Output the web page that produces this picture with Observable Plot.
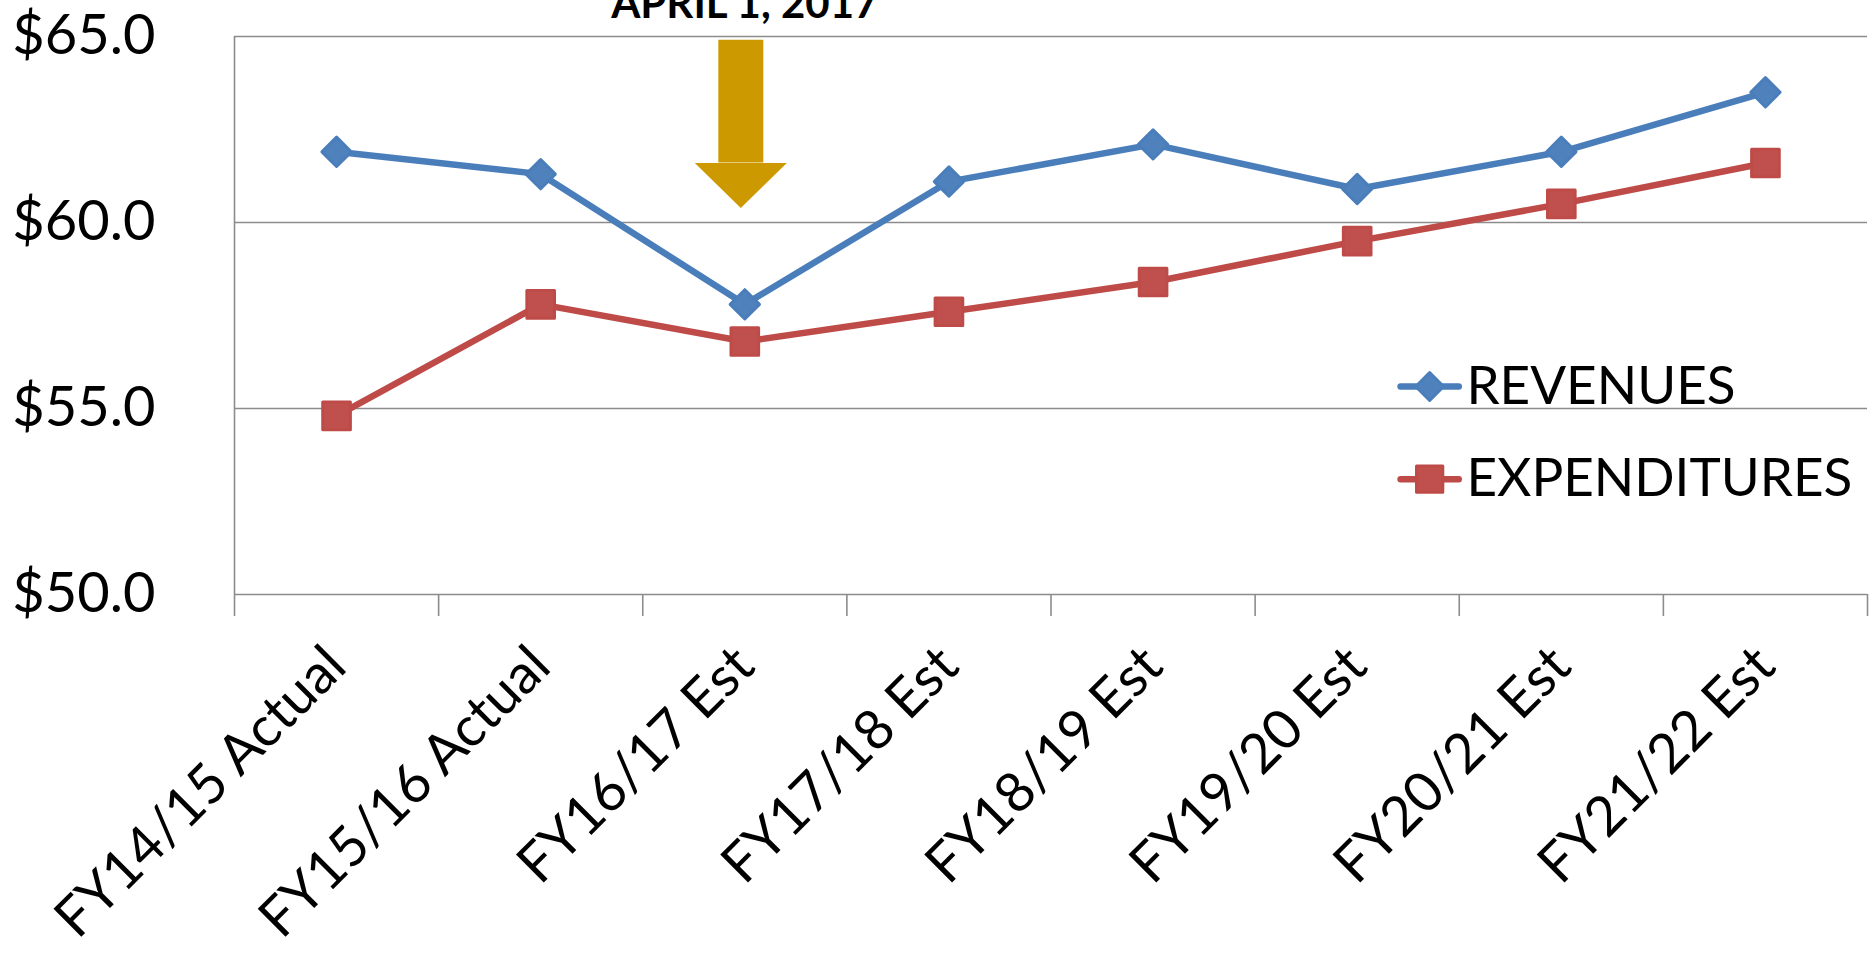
<!DOCTYPE html>
<html>
<head>
<meta charset="utf-8">
<script src="https://cdn.jsdelivr.net/npm/d3@7"></script>
<script src="https://cdn.jsdelivr.net/npm/@observablehq/plot@0.6"></script>
<style>
  html, body { margin: 0; padding: 0; background: #ffffff; }
  #chart svg { display: block; }
</style>
</head>
<body>
<div id="chart"></div>
<script>
// ---- data ----
const categories = ["FY14/15 Actual", "FY15/16 Actual", "FY16/17 Est", "FY17/18 Est", "FY18/19 Est", "FY19/20 Est", "FY20/21 Est", "FY21/22 Est"];
const revenues = [61.9, 61.3, 57.8, 61.1, 62.1, 60.9, 61.9, 63.5];
const expenditures = [54.8, 57.8, 56.8, 57.6, 58.4, 59.5, 60.5, 61.6];
const seriesNames = ["REVENUES", "EXPENDITURES"];
const yTicks = [50, 55, 60, 65];
const annotationLabel = "APRIL 1, 2017";
const annotationCategory = "FY16/17 Est";
const annotationTop = 64.9;
const annotationHeadBase = 61.6;

// ---- styling ----
const FONT = "Lato, 'Open Sans', sans-serif";
const GRID = "#8c8c8c";
const GOLD = "#CC9900";
const styles = {
  REVENUES: {line: "#4A7EBB", fill: "#4F81BD", symbol: "diamond2", r: 13.2},
  EXPENDITURES: {line: "#BE4B48", fill: "#C0504D", symbol: "square", r: 15.6}
};

const pos = c => categories.indexOf(c) + 0.5;
const series = {REVENUES: revenues, EXPENDITURES: expenditures};
const rows = seriesNames.flatMap(s => categories.map((c, i) => ({series: s, x: pos(c), value: series[s][i]})));

// legend layout (in chart coordinates)
const legend = seriesNames.map((s, i) => ({series: s, y: [55.59, 53.1][i]}));
const legX1 = 5.715, legX2 = 6.0, legXm = 5.855, legXt = 6.035;

const arrowHead = {
  draw(ctx) {
    ctx.moveTo(-46, 0);
    ctx.lineTo(46, 0);
    ctx.lineTo(0, 45);
    ctx.closePath();
  }
};

const boundaries = d3.range(0, categories.length + 1);
const centers = categories.map(pos);

const marks = [
  Plot.gridY(yTicks, {stroke: GRID, strokeOpacity: 1, strokeWidth: 1.6}),
  Plot.axisY(yTicks, {
    tickSize: 0, tickPadding: 79, fontSize: 56, fill: "#000", label: null,
    tickFormat: d => "$" + d.toFixed(1), fontFamily: FONT
  }),
  Plot.axisX(boundaries, {tickSize: 22, tickFormat: () => "", label: null, stroke: GRID, strokeWidth: 1.6}),
  Plot.axisX(centers, {
    tickSize: 0, tickRotate: -45, fontSize: 55, fill: "#000", fontFamily: FONT, label: null,
    tickFormat: d => categories[Math.floor(d)], tickPadding: 62
  }),
  Plot.ruleX([0], {y1: yTicks[0], y2: yTicks[yTicks.length - 1], stroke: GRID, strokeWidth: 1.6}),
  // annotation arrow
  Plot.ruleX([annotationCategory], {x: d => pos(d), dx: -4, y1: annotationTop, y2: annotationHeadBase, stroke: GOLD, strokeWidth: 45}),
  Plot.dot([annotationCategory], {x: d => pos(d), dx: -4, y: annotationHeadBase, symbol: arrowHead, fill: GOLD, stroke: "none"}),
  Plot.text([annotationLabel], {x: pos(annotationCategory), y: yTicks[yTicks.length - 1], dy: -19, lineAnchor: "bottom",
    text: d => d, fontSize: 42, fontWeight: "bold", fontFamily: FONT, fill: "#000"}),
  // series
  ...seriesNames.map(s => Plot.line(rows.filter(d => d.series === s), {
    x: "x", y: "value", stroke: styles[s].line, strokeWidth: 6.5, strokeLinejoin: "round"
  })),
  ...seriesNames.map(s => Plot.dot(rows.filter(d => d.series === s), {
    x: "x", y: "value", symbol: styles[s].symbol, r: styles[s].r,
    fill: styles[s].fill, stroke: styles[s].line, strokeWidth: 3, strokeLinejoin: "round"
  })),
  // legend
  ...legend.map(l => Plot.ruleY([l], {y: "y", x1: legX1, x2: legX2, stroke: styles[l.series].line, strokeWidth: 6.5, strokeLinecap: "round"})),
  ...legend.map(l => Plot.dot([l], {x: legXm, y: "y", symbol: styles[l.series].symbol, r: styles[l.series].r * 0.95,
    fill: styles[l.series].fill, stroke: styles[l.series].line, strokeWidth: 3, strokeLinejoin: "round"})),
  Plot.text(legend, {x: legXt, y: "y", text: "series", textAnchor: "start", fontSize: 53, fontFamily: FONT, fill: "#000"})
];

const chart = Plot.plot({
  width: 1875,
  height: 956,
  marginLeft: 234,
  marginRight: 8,
  marginTop: 36,
  marginBottom: 362,
  style: {fontFamily: FONT, background: "#fff", overflow: "visible"},
  x: {type: "linear", domain: [0, categories.length], axis: null},
  y: {domain: [yTicks[0], yTicks[yTicks.length - 1]], axis: null},
  marks
});
document.getElementById("chart").appendChild(chart);
</script>
</body>
</html>
